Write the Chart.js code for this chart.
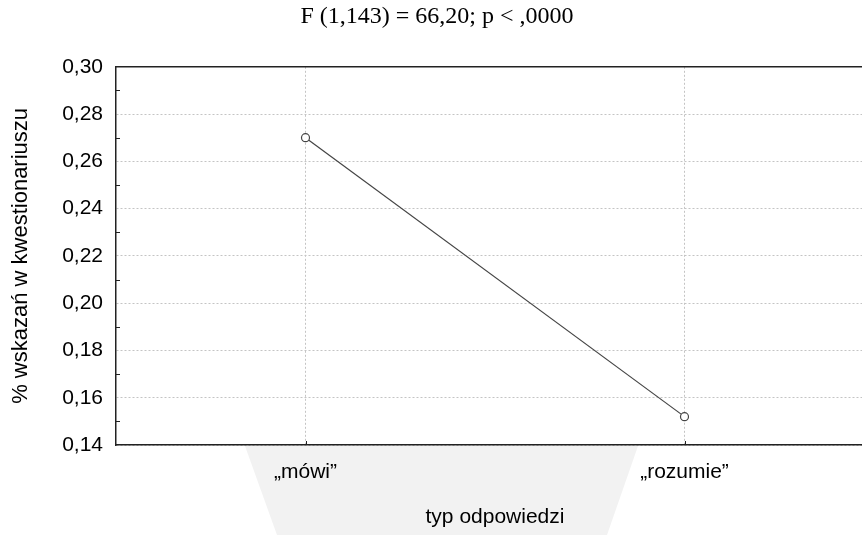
<!DOCTYPE html>
<html>
<head>
<meta charset="utf-8">
<script src="https://cdn.jsdelivr.net/npm/chart.js@4"></script>
<style>
  html, body { margin: 0; padding: 0; background: #fff; overflow: hidden; }
  #wrap { width: 880px; height: 535px; }
</style>
</head>
<body>
<div id="wrap"><canvas id="chart" width="880" height="535"></canvas></div>
<script>
// data
const categories = ['\u201Em\u00f3wi\u201D', '\u201Erozumie\u201D'];
const meanValues = [0.270, 0.152];
const yTicks = [0.14, 0.16, 0.18, 0.20, 0.22, 0.24, 0.26, 0.28, 0.30];
const yMinorTicks = [0.15, 0.17, 0.19, 0.21, 0.23, 0.25, 0.27, 0.29];
const titleText = 'F (1,143) = 66,20; p < ,0000';
const xTitle = 'typ odpowiedzi';
const yTitle = '% wskaza\u0144 w kwestionariuszu';

const sans = "'Liberation Sans', Arial, sans-serif";

// gray trapezoid behind the x labels, top border, minor ticks
const decor = {
  id: 'decor',
  beforeDraw(chart){
    const {ctx, chartArea: a} = chart;
    ctx.save();
    ctx.fillStyle = '#f2f2f2';
    ctx.beginPath();
    ctx.moveTo(a.left + 129, a.bottom + 1);
    ctx.lineTo(a.left + 522, a.bottom + 1);
    ctx.lineTo(a.left + 491, chart.height);
    ctx.lineTo(a.left + 161, chart.height);
    ctx.closePath();
    ctx.fill();
    ctx.restore();
  },
  afterDraw(chart){
    const {ctx, chartArea: a, scales} = chart;
    ctx.save();
    ctx.strokeStyle = '#222';
    ctx.lineWidth = 1.5;
    ctx.beginPath();
    ctx.moveTo(a.left, a.top);
    ctx.lineTo(a.right, a.top);
    ctx.stroke();
    ctx.lineWidth = 1;
    ctx.beginPath();
    yMinorTicks.forEach(v => {
      const y = Math.round(scales.y.getPixelForValue(v)) + 0.5;
      ctx.moveTo(a.left, y); ctx.lineTo(a.left + 4, y);
    });
    categories.forEach((c, i) => {
      const x = Math.round(scales.x.getPixelForValue(i)) + 0.5;
      ctx.moveTo(x, a.bottom); ctx.lineTo(x, a.bottom - 4);
    });
    ctx.stroke();
    ctx.restore();
  }
};

new Chart(document.getElementById('chart'), {
  type: 'line',
  data: {
    labels: categories,
    datasets: [{
      data: meanValues,
      borderColor: '#444',
      borderWidth: 1.2,
      pointRadius: 4,
      pointBackgroundColor: '#fff',
      pointBorderColor: '#444',
      pointBorderWidth: 1.2,
      tension: 0
    }]
  },
  options: {
    responsive: false,
    animation: false,
    layout: { padding: { left: 0, right: 6, top: 0, bottom: 0 } },
    plugins: {
      legend: { display: false },
      tooltip: { enabled: false },
      title: {
        display: true,
        text: titleText,
        color: '#000',
        font: { family: "'Liberation Serif', 'Times New Roman', serif", size: 24, weight: 'normal' },
        padding: { top: 2, bottom: 36 }
      }
    },
    scales: {
      x: {
        offset: true,
        grid: { offset: false, color: '#c4c4c4', drawTicks: false },
        border: { color: '#222', width: 1.5, dash: [2, 2] },
        ticks: { color: '#000', font: { family: sans, size: 21 }, padding: 15 },
        title: { display: true, text: xTitle, color: '#000', font: { family: sans, size: 21 }, padding: { top: 0, bottom: 5 } },
        afterFit(scale){ scale.height = 90; }
      },
      y: {
        min: 0.14,
        max: 0.30,
        afterBuildTicks(scale){ scale.ticks = yTicks.map(v => ({value: v})); },
        grid: { color: '#c4c4c4', drawTicks: false },
        border: { color: '#222', width: 1.5, dash: [2, 2] },
        ticks: {
          color: '#000',
          font: { family: sans, size: 21 },
          padding: 13,
          callback: v => v.toFixed(2).replace('.', ',')
        },
        title: { display: true, text: yTitle, color: '#000', font: { family: sans, size: 22 }, padding: { top: 8, bottom: 0 } },
        afterFit(scale){ scale.width = 116; }
      }
    }
  },
  plugins: [decor]
});
</script>
</body>
</html>
